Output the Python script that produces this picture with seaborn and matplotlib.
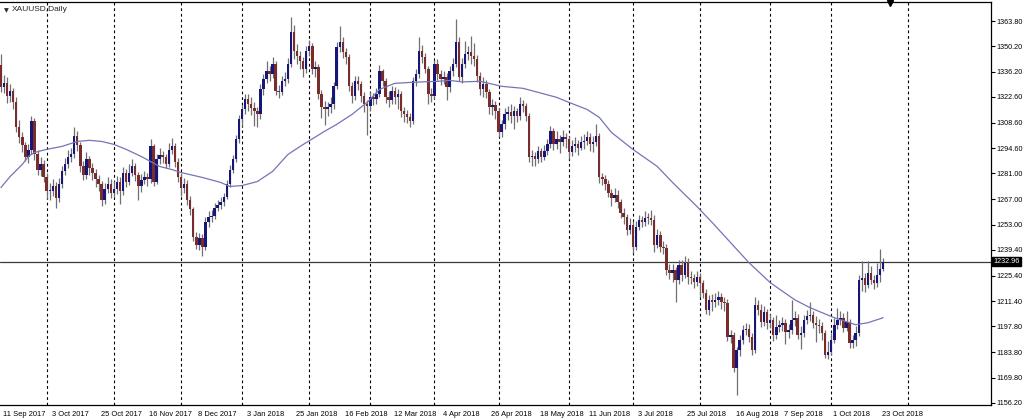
import numpy as np
import pandas as pd
import matplotlib
matplotlib.use("Agg")
import matplotlib.pyplot as plt
import matplotlib.transforms as mtransforms
import seaborn as sns

# daily XAUUSD bars, 11 Sep 2017 .. 24 Oct 2018
closes = [1327.8, 1330.0, 1322.9, 1325.7, 1319.7, 1306.0, 1300.6, 1296.2, 1290.2, 1294.0,
          1309.3, 1291.3, 1283.1, 1286.4, 1279.3, 1271.2, 1271.7, 1274.4, 1267.9, 1275.5,
          1282.1, 1286.4, 1289.7, 1291.3, 1301.1, 1296.2, 1285.3, 1279.9, 1288.6, 1284.2,
          1281.0, 1277.7, 1275.5, 1266.8, 1272.8, 1275.5, 1270.1, 1272.8, 1276.1, 1271.7,
          1281.0, 1276.6, 1281.5, 1284.8, 1279.9, 1273.9, 1277.2, 1278.8, 1277.7, 1295.7,
          1276.6, 1288.6, 1290.8, 1289.7, 1286.4, 1294.0, 1295.7, 1287.0, 1278.8, 1273.3,
          1275.0, 1266.8, 1261.4, 1246.6, 1242.3, 1246.1, 1241.2, 1254.8, 1257.5, 1258.1,
          1262.4, 1264.1, 1265.2, 1268.4, 1275.0, 1283.1, 1288.6, 1299.5, 1310.4, 1315.8,
          1321.3, 1318.6, 1316.4, 1314.8, 1313.1, 1326.7, 1332.2, 1336.6, 1334.9, 1340.4,
          1325.7, 1325.1, 1331.1, 1332.2, 1340.4, 1357.8, 1347.5, 1344.7, 1342.0, 1337.6,
          1347.5, 1350.2, 1337.6, 1338.7, 1324.0, 1316.9, 1315.8, 1316.9, 1318.6, 1328.4,
          1349.6, 1352.4, 1346.9, 1344.2, 1328.4, 1322.9, 1331.1, 1329.5, 1322.9, 1318.6,
          1317.5, 1322.4, 1321.3, 1324.0, 1336.6, 1331.1, 1322.4, 1320.8, 1325.7, 1322.4,
          1324.0, 1314.8, 1313.1, 1311.5, 1309.3, 1331.1, 1334.9, 1347.5, 1344.2, 1337.6,
          1324.0, 1322.9, 1340.4, 1334.9, 1332.2, 1333.3, 1327.8, 1336.6, 1340.4, 1352.4,
          1333.3, 1340.4, 1345.8, 1346.9, 1344.7, 1343.1, 1333.8, 1326.7, 1329.5, 1325.1,
          1316.9, 1318.0, 1314.8, 1303.3, 1307.7, 1313.1, 1314.2, 1312.0, 1314.8, 1312.0,
          1318.6, 1317.5, 1312.0, 1289.7, 1290.5, 1288.9, 1293.0, 1290.2, 1293.0, 1296.8,
          1303.9, 1296.8, 1299.5, 1297.9, 1300.6, 1299.5, 1292.4, 1295.7, 1296.8, 1295.1,
          1297.9, 1298.4, 1300.6, 1296.8, 1297.9, 1301.1, 1278.8, 1277.7, 1275.0, 1270.6,
          1267.9, 1269.5, 1265.7, 1259.7, 1257.5, 1250.4, 1253.2, 1241.2, 1252.1, 1255.9,
          1254.8, 1257.0, 1256.5, 1255.9, 1242.3, 1247.7, 1241.2, 1240.3, 1228.6, 1227.0,
          1228.6, 1223.2, 1231.4, 1225.9, 1232.5, 1224.8, 1224.3, 1222.1, 1224.8, 1221.6,
          1216.1, 1206.8, 1212.3, 1211.0, 1212.3, 1213.9, 1211.2, 1210.7, 1192.1, 1193.2,
          1175.2, 1185.0, 1190.5, 1195.9, 1196.5, 1192.1, 1185.0, 1209.6, 1206.8, 1200.3,
          1205.8, 1199.8, 1201.4, 1193.2, 1197.6, 1198.7, 1199.5, 1194.9, 1195.9, 1201.4,
          1202.5, 1193.2, 1194.3, 1201.4, 1203.6, 1204.1, 1199.8, 1198.7, 1197.8, 1194.3,
          1182.3, 1184.0, 1190.5, 1198.7, 1201.4, 1202.5, 1197.0, 1200.3, 1188.9, 1190.5,
          1194.3, 1223.2, 1224.3, 1220.5, 1227.0, 1223.2, 1221.6, 1225.9, 1229.0, 1232.96]

opens = [1340.0, 1327.8, 1330.0, 1322.9, 1325.7, 1319.7, 1306.0, 1300.6, 1296.2, 1290.2,
         1294.0, 1309.3, 1291.3, 1283.1, 1286.4, 1279.3, 1271.2, 1271.7, 1274.4, 1267.9,
         1275.5, 1282.1, 1286.4, 1289.7, 1291.3, 1301.1, 1296.2, 1285.3, 1279.9, 1288.6,
         1284.2, 1281.0, 1277.7, 1275.5, 1266.8, 1272.8, 1275.5, 1270.1, 1272.8, 1276.1,
         1271.7, 1281.0, 1276.6, 1281.5, 1284.8, 1279.9, 1273.9, 1277.2, 1278.8, 1277.7,
         1295.7, 1276.6, 1288.6, 1290.8, 1289.7, 1286.4, 1294.0, 1295.7, 1287.0, 1278.8,
         1273.3, 1275.0, 1266.8, 1261.4, 1246.6, 1242.3, 1246.1, 1241.2, 1254.8, 1257.5,
         1258.1, 1262.4, 1264.1, 1265.2, 1268.4, 1275.0, 1283.1, 1288.6, 1299.5, 1310.4,
         1315.8, 1321.3, 1318.6, 1316.4, 1314.8, 1313.1, 1326.7, 1332.2, 1336.6, 1334.9,
         1340.4, 1325.7, 1325.1, 1331.1, 1332.2, 1340.4, 1357.8, 1347.5, 1344.7, 1342.0,
         1337.6, 1347.5, 1350.2, 1337.6, 1338.7, 1324.0, 1316.9, 1315.8, 1316.9, 1318.6,
         1328.4, 1349.6, 1352.4, 1346.9, 1344.2, 1328.4, 1322.9, 1331.1, 1329.5, 1322.9,
         1318.6, 1317.5, 1322.4, 1321.3, 1324.0, 1336.6, 1331.1, 1322.4, 1320.8, 1325.7,
         1322.4, 1324.0, 1314.8, 1313.1, 1311.5, 1309.3, 1331.1, 1334.9, 1347.5, 1344.2,
         1337.6, 1324.0, 1322.9, 1340.4, 1334.9, 1332.2, 1333.3, 1327.8, 1336.6, 1340.4,
         1352.4, 1333.3, 1340.4, 1345.8, 1346.9, 1344.7, 1343.1, 1333.8, 1326.7, 1329.5,
         1325.1, 1316.9, 1318.0, 1314.8, 1303.3, 1307.7, 1313.1, 1314.2, 1312.0, 1314.8,
         1312.0, 1318.6, 1317.5, 1312.0, 1289.7, 1290.5, 1288.9, 1293.0, 1290.2, 1293.0,
         1296.8, 1303.9, 1296.8, 1299.5, 1297.9, 1300.6, 1299.5, 1292.4, 1295.7, 1296.8,
         1295.1, 1297.9, 1298.4, 1300.6, 1296.8, 1297.9, 1301.1, 1278.8, 1277.7, 1275.0,
         1270.6, 1267.9, 1269.5, 1265.7, 1259.7, 1257.5, 1250.4, 1253.2, 1241.2, 1252.1,
         1255.9, 1254.8, 1257.0, 1256.5, 1255.9, 1242.3, 1247.7, 1241.2, 1240.3, 1228.6,
         1227.0, 1228.6, 1223.2, 1231.4, 1225.9, 1232.5, 1224.8, 1224.3, 1222.1, 1224.8,
         1221.6, 1216.1, 1206.8, 1212.3, 1211.0, 1212.3, 1213.9, 1211.2, 1210.7, 1192.1,
         1193.2, 1175.2, 1185.0, 1190.5, 1195.9, 1196.5, 1192.1, 1185.0, 1209.6, 1206.8,
         1200.3, 1205.8, 1199.8, 1201.4, 1193.2, 1197.6, 1198.7, 1199.5, 1194.9, 1195.9,
         1201.4, 1202.5, 1193.2, 1194.3, 1201.4, 1203.6, 1204.1, 1199.8, 1198.7, 1197.8,
         1194.3, 1182.3, 1184.0, 1190.5, 1198.7, 1201.4, 1202.5, 1197.0, 1200.3, 1188.9,
         1190.5, 1194.3, 1223.2, 1224.3, 1220.5, 1227.0, 1223.2, 1221.6, 1225.9, 1229.0]

highs = [1346.0, 1334.6, 1333.2, 1329.8, 1327.3, 1322.5, 1310.1, 1303.8, 1298.0, 1297.1,
         1312.5, 1311.0, 1293.6, 1289.9, 1288.1, 1281.4, 1275.8, 1278.0, 1276.2, 1278.4,
         1285.0, 1289.3, 1293.5, 1295.0, 1306.2, 1303.9, 1298.1, 1287.6, 1292.8, 1290.5,
         1286.7, 1283.5, 1280.2, 1277.1, 1276.0, 1279.3, 1278.2, 1276.9, 1279.5, 1278.9,
         1284.6, 1283.2, 1286.0, 1288.7, 1286.9, 1281.8, 1280.6, 1282.3, 1281.0, 1299.8,
         1297.2, 1291.4, 1294.6, 1293.1, 1291.8, 1297.5, 1300.2, 1297.8, 1289.4, 1281.0,
         1278.6, 1277.3, 1268.5, 1263.0, 1249.3, 1248.6, 1247.8, 1257.4, 1260.6, 1261.0,
         1264.9, 1266.8, 1268.0, 1270.6, 1277.2, 1285.4, 1291.0, 1301.8, 1313.0, 1318.2,
         1324.1, 1324.0, 1322.5, 1319.7, 1317.0, 1329.5, 1335.3, 1342.1, 1339.2, 1344.6,
         1342.0, 1328.9, 1333.9, 1336.0, 1343.7, 1366.0, 1361.5, 1351.3, 1347.5, 1344.6,
         1350.4, 1353.6, 1352.0, 1342.3, 1340.5, 1326.2, 1320.4, 1320.1, 1322.8, 1331.0,
         1352.5, 1361.0, 1355.3, 1349.0, 1346.1, 1330.7, 1334.2, 1333.8, 1331.4, 1325.2,
         1321.0, 1325.3, 1325.0, 1327.6, 1340.2, 1338.0, 1333.0, 1325.6, 1328.3, 1328.0,
         1326.9, 1325.8, 1317.4, 1315.6, 1314.0, 1333.5, 1337.8, 1355.0, 1350.6, 1346.5,
         1339.3, 1327.4, 1342.8, 1343.0, 1337.5, 1336.8, 1335.6, 1339.2, 1343.6, 1365.0,
         1355.0, 1343.8, 1353.0, 1350.3, 1355.8, 1352.0, 1345.4, 1336.0, 1333.2, 1331.6,
         1327.0, 1321.4, 1320.5, 1316.4, 1310.2, 1316.8, 1317.6, 1318.8, 1317.9, 1316.6,
         1322.6, 1320.8, 1319.2, 1313.8, 1293.5, 1292.7, 1296.0, 1295.1, 1296.3, 1300.0,
         1307.0, 1305.5, 1304.2, 1302.0, 1304.5, 1303.2, 1301.5, 1299.0, 1300.9, 1299.4,
         1301.3, 1302.6, 1304.0, 1302.9, 1301.1, 1308.0, 1303.0, 1281.5, 1280.2, 1277.3,
         1272.8, 1273.1, 1271.8, 1267.0, 1262.2, 1259.0, 1256.5, 1255.0, 1255.3, 1258.4,
         1258.0, 1260.3, 1259.4, 1261.0, 1258.2, 1251.0, 1249.6, 1244.0, 1242.5, 1231.8,
         1232.0, 1230.0, 1234.0, 1233.8, 1236.0, 1235.2, 1228.0, 1226.5, 1228.1, 1227.0,
         1223.3, 1218.0, 1215.1, 1215.4, 1216.0, 1217.3, 1216.2, 1214.0, 1212.6, 1196.0,
         1195.0, 1186.5, 1193.2, 1198.3, 1199.6, 1198.9, 1194.2, 1214.0, 1212.0, 1210.2,
         1208.9, 1207.5, 1204.8, 1203.0, 1204.0, 1201.5, 1203.0, 1201.6, 1199.2, 1212.0,
         1206.3, 1204.6, 1198.0, 1204.0, 1206.8, 1211.0, 1206.0, 1203.2, 1201.9, 1200.0,
         1196.0, 1189.7, 1194.0, 1202.4, 1208.0, 1206.2, 1205.0, 1206.1, 1202.0, 1193.0,
         1198.0, 1225.8, 1233.4, 1227.1, 1233.2, 1230.6, 1226.0, 1232.5, 1240.0, 1235.0]

lows = [1325.5, 1324.9, 1319.4, 1320.1, 1316.2, 1303.4, 1297.3, 1292.5, 1287.6, 1286.9,
        1291.7, 1288.2, 1280.4, 1279.8, 1276.5, 1267.0, 1266.3, 1268.9, 1262.1, 1265.2,
        1273.1, 1280.0, 1284.2, 1287.1, 1289.4, 1293.0, 1282.0, 1277.2, 1278.0, 1280.3,
        1277.4, 1273.6, 1271.3, 1263.5, 1264.2, 1270.5, 1267.6, 1268.0, 1269.7, 1264.3,
        1269.5, 1273.8, 1274.9, 1279.6, 1277.0, 1266.5, 1271.0, 1275.1, 1274.4, 1276.0,
        1274.1, 1275.3, 1286.0, 1286.5, 1283.9, 1284.7, 1291.6, 1284.6, 1276.2, 1268.5,
        1270.1, 1264.0, 1258.2, 1244.1, 1240.0, 1239.4, 1236.0, 1239.5, 1252.1, 1254.4,
        1256.3, 1260.5, 1261.9, 1263.3, 1267.0, 1273.6, 1281.5, 1287.0, 1297.8, 1306.9,
        1313.5, 1315.2, 1312.8, 1307.0, 1306.5, 1310.8, 1323.9, 1330.0, 1331.4, 1333.0,
        1323.4, 1322.0, 1323.6, 1328.5, 1330.1, 1339.0, 1343.2, 1340.6, 1337.9, 1333.2,
        1335.5, 1344.8, 1335.0, 1333.5, 1321.3, 1311.0, 1307.6, 1312.2, 1314.0, 1316.3,
        1326.9, 1347.2, 1344.0, 1340.6, 1326.0, 1319.5, 1321.0, 1326.3, 1320.0, 1314.4,
        1302.0, 1315.1, 1318.4, 1318.9, 1322.5, 1328.7, 1319.5, 1317.0, 1318.6, 1319.0,
        1316.2, 1311.5, 1309.0, 1308.3, 1306.0, 1307.8, 1328.6, 1332.7, 1341.0, 1335.4,
        1318.7, 1319.6, 1321.4, 1331.8, 1328.9, 1329.5, 1321.0, 1325.4, 1334.0, 1338.8,
        1331.2, 1330.1, 1338.2, 1342.9, 1340.5, 1339.6, 1331.0, 1323.9, 1322.7, 1321.8,
        1313.5, 1313.0, 1310.6, 1301.0, 1300.8, 1305.4, 1309.9, 1308.6, 1305.2, 1309.0,
        1310.3, 1314.4, 1309.6, 1287.4, 1285.2, 1284.8, 1286.5, 1287.0, 1288.1, 1291.0,
        1295.0, 1293.7, 1294.4, 1292.3, 1296.0, 1294.8, 1289.0, 1290.5, 1292.8, 1291.2,
        1293.6, 1294.5, 1296.2, 1293.4, 1292.8, 1296.0, 1276.0, 1274.6, 1271.9, 1268.0,
        1263.2, 1265.6, 1262.3, 1257.0, 1253.4, 1247.6, 1248.0, 1237.9, 1239.6, 1250.2,
        1252.0, 1252.6, 1253.3, 1252.8, 1238.5, 1240.2, 1238.1, 1237.0, 1226.0, 1223.4,
        1222.0, 1211.2, 1221.0, 1222.5, 1224.0, 1221.0, 1220.6, 1218.9, 1219.5, 1214.0,
        1213.2, 1204.5, 1204.0, 1206.3, 1208.4, 1209.7, 1207.0, 1206.2, 1190.0, 1188.7,
        1172.8, 1160.4, 1181.8, 1188.2, 1192.9, 1189.3, 1182.0, 1183.3, 1203.9, 1197.6,
        1198.0, 1196.4, 1197.0, 1190.1, 1191.0, 1194.8, 1195.1, 1188.0, 1191.3, 1193.6,
        1198.2, 1190.7, 1185.5, 1192.0, 1199.1, 1200.5, 1196.9, 1189.5, 1194.0, 1190.6,
        1180.6, 1180.0, 1182.4, 1188.8, 1196.2, 1198.3, 1194.6, 1195.5, 1186.0, 1185.9,
        1187.2, 1192.7, 1217.0, 1216.4, 1218.8, 1221.0, 1218.0, 1219.4, 1221.7, 1227.8]

# moving average, sampled along the line
ma_bar = [0, 3, 7, 9, 11, 15, 20, 25, 29, 33, 37, 41, 46, 49, 52, 56, 59, 66, 72, 75,
          79, 84, 89, 94, 98, 106, 110, 115, 120, 124, 129, 135, 143, 147, 151, 157, 164,
          171, 176, 182, 186, 192, 196, 200, 207, 215, 220, 228, 233, 239, 245, 252, 260,
          265, 273, 280, 284, 289]
ma_price = [1273.3, 1279.3, 1285.9, 1290.2, 1292.4, 1294.1, 1295.7, 1298.4, 1299.0, 1298.4,
            1296.8, 1294.1, 1290.2, 1287.5, 1284.8, 1283.1, 1281.5, 1278.8, 1276.1, 1273.9,
            1274.4, 1276.6, 1282.1, 1291.3, 1295.7, 1303.9, 1307.7, 1313.1, 1319.7, 1326.7,
            1330.0, 1330.6, 1331.1, 1331.6, 1330.8, 1331.1, 1328.4, 1327.3, 1325.1, 1322.4,
            1319.7, 1315.8, 1311.5, 1303.3, 1294.1, 1284.8, 1276.1, 1263.0, 1254.3, 1243.4,
            1232.5, 1221.6, 1212.3, 1208.0, 1202.5, 1198.7, 1199.8, 1202.5]

last_price = 1232.96
month_grid = [15, 37, 59, 79, 101, 121, 142, 163, 186, 207, 229, 252, 272, 297]
date_ticks = list(range(0, 289, 16))
date_labels = ["11 Sep 2017", "3 Oct 2017", "25 Oct 2017", "16 Nov 2017", "8 Dec 2017",
               "3 Jan 2018", "25 Jan 2018", "16 Feb 2018", "12 Mar 2018", "4 Apr 2018",
               "26 Apr 2018", "18 May 2018", "11 Jun 2018", "3 Jul 2018", "25 Jul 2018",
               "16 Aug 2018", "7 Sep 2018", "1 Oct 2018", "23 Oct 2018"]
price_ticks = [1363.80, 1350.20, 1336.20, 1322.60, 1308.60, 1294.60, 1281.00, 1267.00,
               1253.00, 1239.40, 1225.40, 1211.40, 1197.80, 1183.80, 1169.80, 1156.20]

sns.set_style("white")
plt.rcParams["font.family"] = ["Liberation Sans", "DejaVu Sans"]

df = pd.DataFrame({"open": opens, "high": highs, "low": lows, "close": closes})
df["bar"] = np.arange(len(df))
up = df["close"] >= df["open"]
body_lo = df[["open", "close"]].min(axis=1)
body_h = (df["close"] - df["open"]).abs().clip(lower=0.6)

fig = plt.figure(figsize=(10.24, 4.2), dpi=100)
ax = fig.add_axes([0.0, 0.036, 0.968, 0.959])

for g in month_grid:
    ax.axvline(g, color="black", lw=0.8, ls=(0, (2.5, 2.5)), zorder=0)

ax.axhline(last_price, color="#3a3a3a", lw=0.9, zorder=1)

ax.vlines(df["bar"], df["low"], df["high"], color="#707070", lw=0.9, zorder=2)
ax.bar(df["bar"][up], body_h[up], bottom=body_lo[up], width=0.8,
       color="#15157a", lw=0, zorder=3)
ax.bar(df["bar"][~up], body_h[~up], bottom=body_lo[~up], width=0.8,
       color="#7a2c2c", lw=0, zorder=3)

ma_df = pd.DataFrame({"bar": ma_bar, "ma": ma_price})
sns.lineplot(data=ma_df, x="bar", y="ma", ax=ax, color="#7474b8", lw=0.9, zorder=4)

ax.set_xlim(-0.3, 324.4)
ax.set_ylim(1155.1, 1374.2)
ax.set_xlabel("")
ax.set_ylabel("")

ax.set_xticks(date_ticks)
ax.set_xticklabels(date_labels)
ax.tick_params(axis="x", length=3, width=0.8, pad=1.5, labelsize=5.4, colors="black")
shift = mtransforms.ScaledTranslation(0.02, 0, fig.dpi_scale_trans)
for lbl in ax.get_xticklabels():
    lbl.set_ha("left")
    lbl.set_transform(lbl.get_transform() + shift)

ax.yaxis.tick_right()
ax.set_yticks(price_ticks)
ax.set_yticklabels([f"{v:.2f}" for v in price_ticks])
ax.tick_params(axis="y", length=3, width=0.8, pad=1, labelsize=5.2, colors="black")

for side in ["top", "right", "bottom"]:
    ax.spines[side].set_color("black")
    ax.spines[side].set_linewidth(0.9)
ax.spines["left"].set_visible(False)

# last price tag on the price scale
trans = mtransforms.blended_transform_factory(ax.transAxes, ax.transData)
ax.text(1.002, last_price, f"{last_price:.2f}", transform=trans, fontsize=5.2,
        color="white", va="center", ha="left",
        bbox=dict(boxstyle="square,pad=0.15", fc="black", ec="black"), clip_on=False)

# chart caption and shift marker
ax.text(0.004, 0.985, "\u25bc", transform=ax.transAxes, fontsize=4.5,
        family="DejaVu Sans", va="top", ha="left")
ax.text(0.012, 0.99, "XAUUSD,Daily", transform=ax.transAxes, fontsize=6,
        va="top", ha="left")
ax.plot([0.898], [0.998], marker="v", color="black", markersize=5,
        transform=ax.transAxes, clip_on=False)

fig.savefig("out.png", dpi=100)
